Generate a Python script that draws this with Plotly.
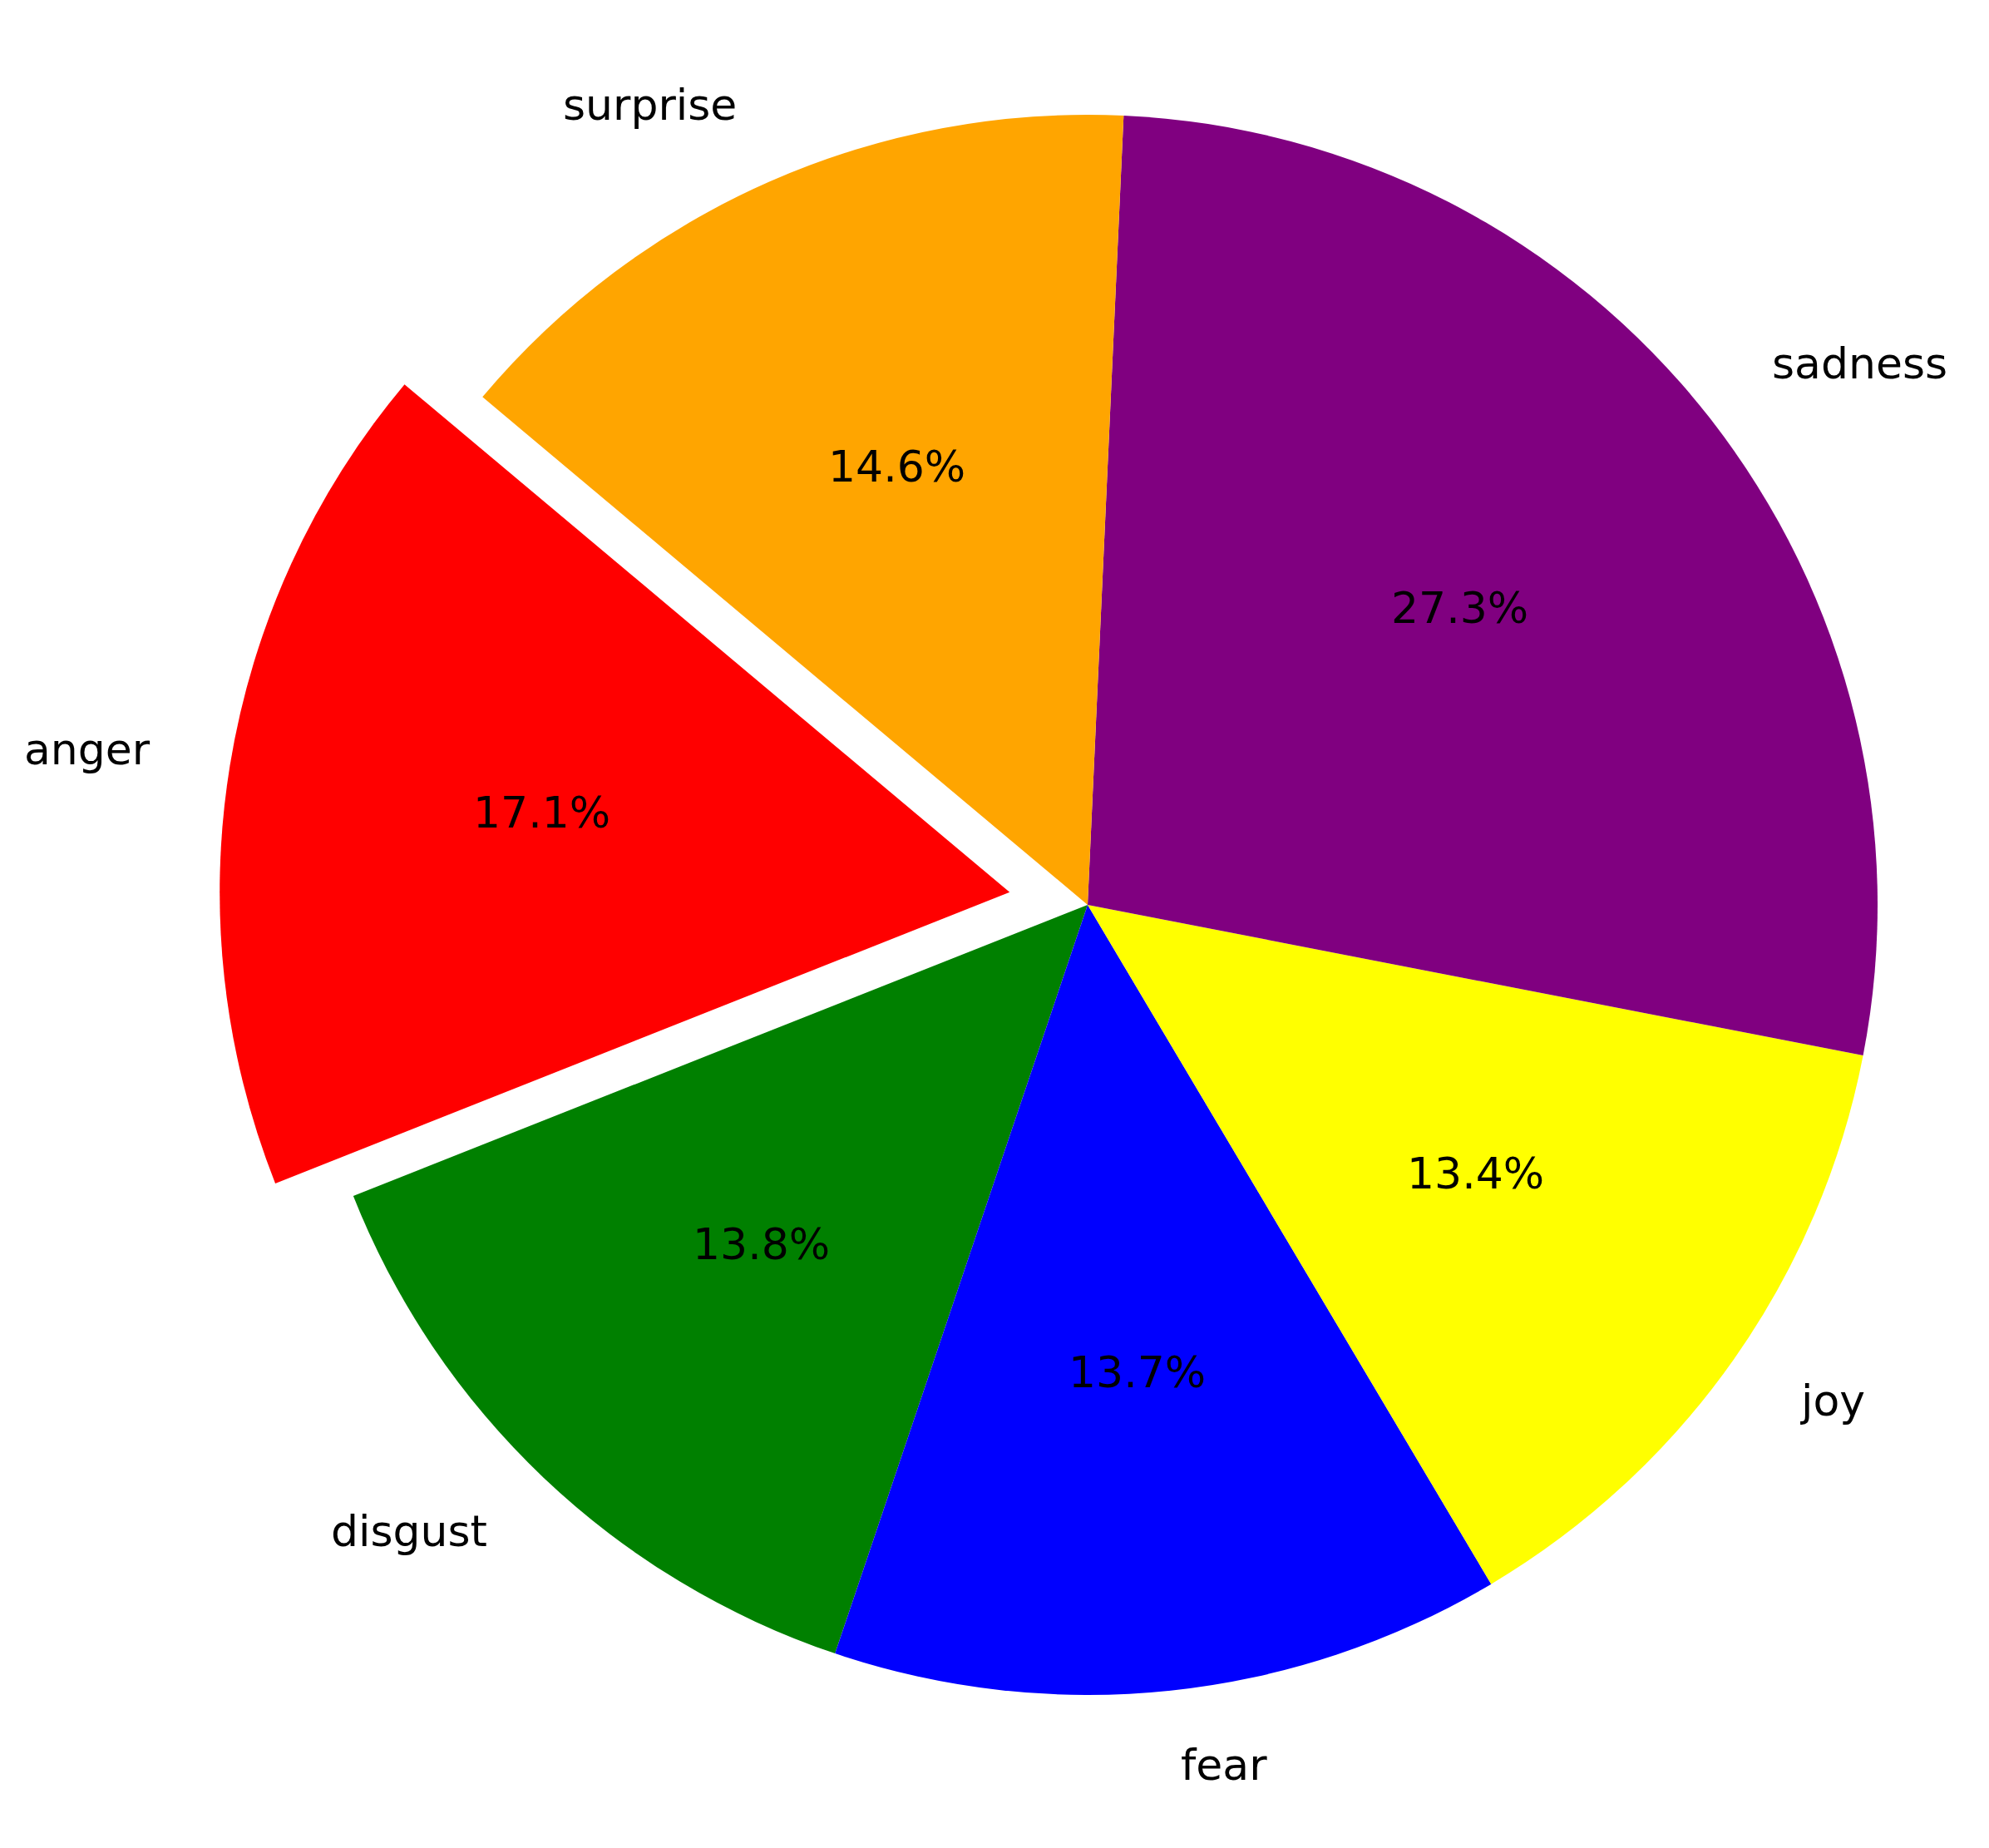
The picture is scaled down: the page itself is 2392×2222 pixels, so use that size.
import math
import plotly.graph_objects as go

# emotion distribution (percent of samples)
emotions = ["anger", "disgust", "fear", "joy", "sadness", "surprise"]
shares = [17.1, 13.8, 13.7, 13.4, 27.3, 14.6]
slice_colors = ["#FF0000", "#008000", "#0000FF", "#FFFF00", "#800080", "#FFA500"]
explode = [0.1, 0, 0, 0, 0, 0]

START_ANGLE = 140  # degrees, counterclockwise from 3 o'clock
FONT = dict(family="DejaVu Sans", size=52, color="black")

total = sum(shares)
fracs = [v / total for v in shares]

fig = go.Figure(
    go.Pie(
        labels=emotions,
        values=shares,
        sort=False,
        direction="counterclockwise",
        # plotly: first slice spans [rotation, rotation + slice] clockwise from 12 o'clock
        rotation=(90 - START_ANGLE) - 360 * fracs[0],
        pull=explode,
        marker=dict(colors=slice_colors, line=dict(width=0)),
        textinfo="none",
        hovertemplate="<b>%{label}</b><br>%{percent}<extra></extra>",
        showlegend=False,
    )
)

# labels placed the way matplotlib does it: names at 1.1 R, percents at 0.6 R
R = 1 / (2 * (1 + max(explode)))  # pie radius in paper units
annotations = []
cum = 0.0
for name, frac, pull in zip(emotions, fracs, explode):
    theta = math.radians(START_ANGLE + 360 * (cum + frac / 2))
    cum += frac
    cx = 0.5 + pull * R * math.cos(theta)
    cy = 0.5 + pull * R * math.sin(theta)
    lx = cx + 1.1 * R * math.cos(theta)
    ly = cy + 1.1 * R * math.sin(theta)
    annotations.append(dict(
        x=lx, y=ly, xref="paper", yref="paper", text=name, showarrow=False,
        xanchor="left" if lx > 0.5 else "right", yanchor="middle", yshift=5,
        font=FONT,
    ))
    annotations.append(dict(
        x=cx + 0.6 * R * math.cos(theta), y=cy + 0.6 * R * math.sin(theta),
        xref="paper", yref="paper", text=f"{frac * 100:.1f}%", showarrow=False,
        xanchor="center", yanchor="middle", yshift=5, font=FONT,
    ))

fig.update_layout(
    width=2392,
    height=2222,
    margin=dict(l=255, r=47, t=35, b=97),
    paper_bgcolor="white",
    plot_bgcolor="white",
    annotations=annotations,
)

fig.write_html("out.html")
